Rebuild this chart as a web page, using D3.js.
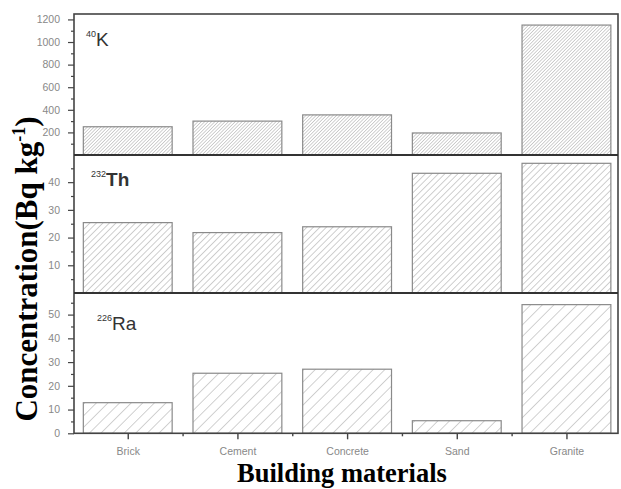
<!DOCTYPE html>
<html><head><meta charset="utf-8">
<script src="https://cdn.jsdelivr.net/npm/d3@7/dist/d3.min.js"></script>
<style>
html,body{margin:0;padding:0;background:#fff;}
svg{display:block;}
</style></head>
<body>
<svg id="chart" width="621" height="489"></svg>
<script>
const categories = ["Brick", "Cement", "Concrete", "Sand", "Granite"];
const k40 = [250, 300, 355, 195, 1150];
const th232 = [25.4, 21.8, 23.9, 43.2, 46.8];
const ra226 = [12.9, 25.3, 27.0, 5.3, 54.2];
const k40Ticks = [200, 400, 600, 800, 1000, 1200];
const th232Ticks = [10, 20, 30, 40];
const ra226Ticks = [0, 10, 20, 30, 40, 50];
const k40Minor = [100, 300, 500, 700, 900, 1100];
const th232Minor = [5, 15, 25, 35, 45];
const ra226Minor = [5, 15, 25, 35, 45, 55];

const svg = d3.select("#chart");
const left = 74, right = 618;
const x = d3.scaleLinear().domain([0.51, 5.47]).range([left, right]);
const barW = x(1.81) - x(1);

const defs = svg.append("defs");
function hatch(id, gap, color, sw) {
  const p = defs.append("pattern").attr("id", id).attr("patternUnits", "userSpaceOnUse")
    .attr("width", gap).attr("height", gap).attr("patternTransform", "rotate(45)");
  p.append("rect").attr("width", gap).attr("height", gap).attr("fill", "#fff");
  p.append("line").attr("x1", 0).attr("y1", 0).attr("x2", 0).attr("y2", gap)
    .attr("stroke", color).attr("stroke-width", sw);
}
hatch("h1", 2.4, "#a4a4a4", 1.0);
hatch("h2", 4.6, "#a0a0a0", 1.0);
hatch("h3", 8.2, "#9a9a9a", 0.9);

const panels = [
  {top: 14, bottom: 155, domain: [0, 1248], values: k40, ticks: k40Ticks, minor: k40Minor, pat: "h1",
   iso: "40", el: "K", lx: 86, ly: 46, bold: false},
  {top: 155, bottom: 293, domain: [0, 49.8], values: th232, ticks: th232Ticks, minor: th232Minor, pat: "h2",
   iso: "232", el: "Th", lx: 91, ly: 186, bold: true},
  {top: 293, bottom: 433.3, domain: [0, 59.1], values: ra226, ticks: ra226Ticks, minor: ra226Minor, pat: "h3",
   iso: "226", el: "Ra", lx: 97, ly: 330, bold: false}
];

panels.forEach(p => {
  const y = d3.scaleLinear().domain(p.domain).range([p.bottom, p.top]);
  const g = svg.append("g");
  g.selectAll("rect.bar").data(p.values).join("rect").attr("class", "bar")
    .attr("x", (d, i) => x(i + 1) - barW / 2)
    .attr("y", d => y(d))
    .attr("width", barW)
    .attr("height", d => y(0) - y(d))
    .attr("fill", `url(#${p.pat})`)
    .attr("stroke", "#8a8a8a").attr("stroke-width", 1.2);

  const ax = svg.append("g").attr("transform", `translate(${left},0)`)
    .call(d3.axisLeft(y).tickValues(p.ticks).tickSize(6).tickPadding(8).tickFormat(d3.format("d")));
  ax.select(".domain").remove();
  ax.selectAll("line").attr("stroke", "#444").attr("stroke-width", 1.2);
  ax.selectAll("text").attr("fill", "#888").style("font-family", "Liberation Sans, Arial, sans-serif")
    .style("font-size", "10.5px");
  const axm = svg.append("g").attr("transform", `translate(${left},0)`)
    .call(d3.axisLeft(y).tickValues(p.minor).tickSize(3).tickFormat(""));
  axm.select(".domain").remove();
  axm.selectAll("line").attr("stroke", "#444").attr("stroke-width", 1.2);

  const lab = svg.append("text").attr("x", p.lx).attr("y", p.ly)
    .style("font-family", "Liberation Sans, Arial, sans-serif").attr("fill", "#333");
  lab.append("tspan").text(p.iso).style("font-size", "9px").attr("dy", -9);
  lab.append("tspan").text(p.el).style("font-size", "19px").attr("dy", 9)
    .style("font-weight", p.bold ? "bold" : "normal");
});

// frame
svg.append("rect").attr("x", left).attr("y", 14).attr("width", right - left).attr("height", 433.3 - 14)
  .attr("fill", "none").attr("stroke", "#444").attr("stroke-width", 1.6);
svg.selectAll("line.sep").data([155, 293]).join("line").attr("class", "sep")
  .attr("x1", left).attr("x2", right).attr("y1", d => d).attr("y2", d => d)
  .attr("stroke", "#333").attr("stroke-width", 2);

// x axis
const xa = svg.append("g").attr("transform", "translate(0,433.3)")
  .call(d3.axisBottom(x).tickValues(categories.map((c, i) => i + 1)).tickSize(6).tickPadding(8)
    .tickFormat((d, i) => categories[i]));
xa.select(".domain").remove();
xa.selectAll("line").attr("stroke", "#444").attr("stroke-width", 1.4);
xa.selectAll("text").attr("fill", "#888").style("font-family", "Liberation Sans, Arial, sans-serif")
  .style("font-size", "10.5px");
const xm = svg.append("g").attr("transform", "translate(0,433.3)")
  .call(d3.axisBottom(x).tickValues([1.5, 2.5, 3.5, 4.5]).tickSize(3).tickFormat(""));
xm.select(".domain").remove();
xm.selectAll("line").attr("stroke", "#444").attr("stroke-width", 1.4);

// titles
svg.append("text").attr("x", 342).attr("y", 482).attr("text-anchor", "middle")
  .style("font-family", "Liberation Serif, Times New Roman, serif").style("font-weight", "bold")
  .style("font-size", "26.5px").attr("fill", "#000").text("Building materials");

const yt = svg.append("text").attr("transform", "translate(37,269) rotate(-90)").attr("text-anchor", "middle")
  .style("font-family", "Liberation Serif, Times New Roman, serif").style("font-weight", "bold")
  .style("font-size", "31px").attr("fill", "#000");
yt.append("tspan").text("Concentration(Bq kg");
yt.append("tspan").text("-1").style("font-size", "18px").attr("dy", -12);
yt.append("tspan").text(")").attr("dy", 12);
</script>
</body></html>
